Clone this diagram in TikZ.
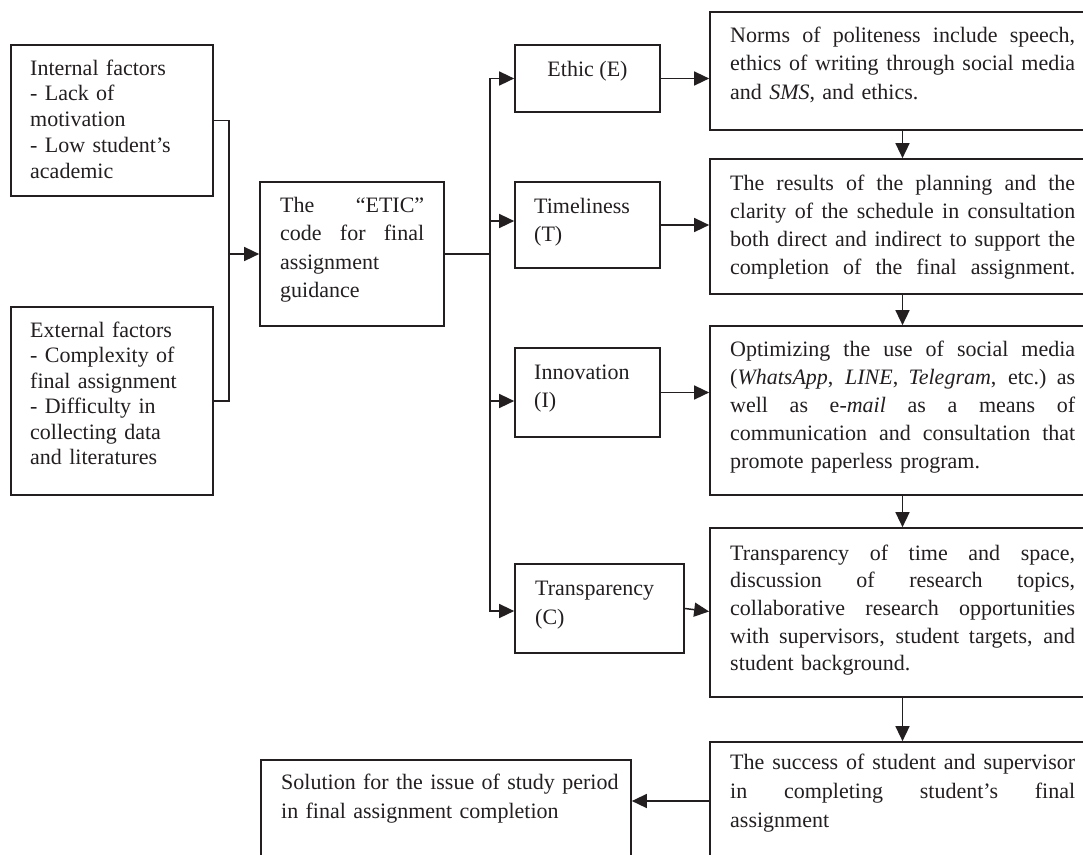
\documentclass[tikz,border=0pt]{standalone}
\usepackage{fontspec}
\setmainfont{Liberation Serif}
\usetikzlibrary{arrows.meta,fit}
\definecolor{ink}{HTML}{231F20}
\newcommand\jl[2][345pt]{{\spaceskip=0.25em plus 3em\xspaceskip=0.25em plus 3em\makebox[#1][s]{#2}}}
\begin{document}
\begin{tikzpicture}[x=1pt,y=-1pt,
  box/.style={draw=ink, line width=1.7pt, inner sep=0pt},
  txt/.style={inner sep=0pt, anchor=base west, align=left, text=ink},
  lead/.style={font=\fontsize{22}{#1}\selectfont},
  arr/.style={draw=ink, line width=1.5pt, -{Triangle[length=15pt,width=14pt]}},
  ln/.style={draw=ink, line width=1.5pt}]
\useasboundingbox (0,0) rectangle (1083,854);
\fill[white] (0,0) rectangle (1083,854);
\clip (0,0) rectangle (1083,854);
% boxes
\node[box, fit={(11,45) (213,196)}] (int) {};
\node[box, fit={(11,307) (213,495)}] (ext) {};
\node[box, fit={(260,182) (444,326)}] (etic) {};
\node[box, fit={(515,45) (660,112)}] (E) {};
\node[box, fit={(515,182) (660,268)}] (T) {};
\node[box, fit={(515,348) (660,437)}] (I) {};
\node[box, fit={(515,564) (684,653)}] (C) {};
\node[box, fit={(710,12) (1095,130)}] (Ed) {};
\node[box, fit={(710,159) (1095,294)}] (Td) {};
\node[box, fit={(710,326) (1095,495)}] (Id) {};
\node[box, fit={(710,528) (1095,697)}] (Cd) {};
\node[box, fit={(710,742) (1095,880)}] (S) {};
\node[box, fit={(261,760) (631,880)}] (Sol) {};
% texts
\node[txt, lead=25.8, text width=180pt] (intT) at (30,75)
  {Internal factors\\- Lack of\\motivation\\- Low student’s\\academic};
\node[txt, lead=25.5, text width=180pt] (extT) at (30,337)
  {External factors\\- Complexity of\\final assignment\\- Difficulty in\\collecting data\\and literatures};
\node[txt, lead=28.5, text width=144pt] (eticT) at (280,212)
  {\jl[144pt]{The “ETIC”}\\\jl[144pt]{code for final}\\assignment\\guidance};
\node[txt, lead=28.5, anchor=base] (ET) at (587.5,76) {Ethic (E)};
\node[txt, lead=28.5, text width=120pt] (TT) at (534,213) {Timeliness\\(T)};
\node[txt, lead=28, text width=120pt] (IT) at (534,379) {Innovation\\(I)};
\node[txt, lead=29, text width=140pt] (CT) at (535,595) {Transparency\\(C)};
\node[txt, lead=28.5, text width=345pt] (EdT) at (730,42)
  {\jl{Norms of politeness include speech,}\\\jl{ethics of writing through social media}\\and \textit{SMS}, and ethics.};
\node[txt, lead=28, text width=345pt] (TdT) at (730,190)
  {\jl{The results of the planning and the}\\\jl{clarity of the schedule in consultation}\\\jl{both direct and indirect to support the}\\\jl{completion of the final assignment.}};
\node[txt, lead=28, text width=345pt] (IdT) at (730,356)
  {\jl{Optimizing the use of social media}\\\jl{(\textit{WhatsApp}, \textit{LINE}, \textit{Telegram}, etc.) as}\\\jl{well as e-\textit{mail} as a means of}\\\jl{communication and consultation that}\\promote paperless program.};
\node[txt, lead=27.7, text width=345pt] (CdT) at (730,560)
  {\jl{Transparency of time and space,}\\\jl{discussion of research topics,}\\\jl{collaborative research opportunities}\\\jl{with supervisors, student targets, and}\\student background.};
\node[txt, lead=29, text width=345pt] (ST) at (730,769)
  {\jl{The success of student and supervisor}\\\jl{in completing student’s final}\\assignment};
\node[txt, lead=29, text width=345pt] (SolT) at (281,789)
  {Solution for the issue of study period\\in final assignment completion};
% connectors
\coordinate (jl) at (229,254);
\coordinate (jr) at (490,254);
\draw[ln] (int.east) -| (jl);
\draw[ln] (ext.east) -| (jl);
\draw[arr] (jl) -- (etic.west);
\draw[ln] (etic.east) -- (jr);
\draw[arr] (jr) |- (E.west);
\draw[arr] (jr) |- ([yshift=4pt]T.west);
\draw[arr] (jr) |- ([yshift=-8.5pt]I.west);
\draw[arr] (jr) |- ([yshift=-2.5pt]C.west);
\draw[arr] (E.east) -- (E.east -| Ed.west);
\draw[arr] (T.east) -- (T.east -| Td.west);
\draw[arr] (I.east) -- (I.east -| Id.west);
\draw[arr] (C.east) -- ([yshift=-3pt]C.east -| Cd.west);
\draw[arr] (Ed.south) -- (Td.north);
\draw[arr] (Td.south) -- (Id.north);
\draw[arr] (Id.south) -- (Cd.north);
\draw[arr] (Cd.south) -- (S.north);
\draw[arr] ([yshift=10pt]S.west) -- ([yshift=10pt]S.west -| Sol.east);
\end{tikzpicture}
\end{document}
